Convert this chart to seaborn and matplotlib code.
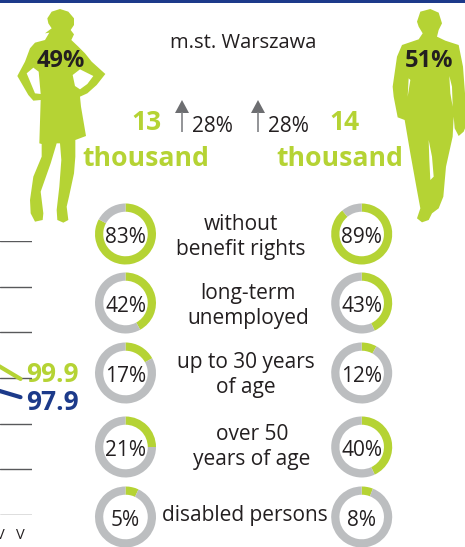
import numpy as np
import pandas as pd
import matplotlib.pyplot as plt
from matplotlib.patches import Polygon, Rectangle
import seaborn as sns

W, H = 465, 547
GREEN = '#b5d334'
BLUE = '#1c3a8a'
GREY = '#bcbec0'
DARK = '#231f20'

# line chart (only the right end of it is visible)
months = ['IV', 'V']
green_line = [101.3, 99.9]
blue_line = [98.6, 97.9]
grid_values = [85, 90, 95, 100, 105, 110, 115]

# donuts
row_labels = ['without\nbenefit rights', 'long-term\nunemployed', 'up to 30 years\nof age',
              'over 50\nyears of age', 'disabled persons']
women_labels = ['83%', '42%', '17%', '21%', '5%']
men_labels = ['89%', '43%', '12%', '40%', '8%']
# arc sizes as drawn, they do not always agree with the printed number
women_arcs = [83, 42, 17, 25, 7]
men_arcs = [89, 43, 8, 43, 6]

# silhouettes
woman = [(180,27),(205,35),(222,55),(222,75),(212,90),(222,103),(214,120),(235,140),(255,160),(275,185),
         (316,222),(290,255),(262,280),(240,290),(243,320),(258,408),(226,420),(226,470),(222,520),(207,590),
         (200,620),(205,660),(190,668),(172,660),(170,630),(178,560),(184,480),(180,430),(170,430),(152,490),
         (122,575),(130,640),(128,660),(105,665),(92,640),(90,600),(100,530),(125,470),(125,432),(118,430),
         (122,300),(100,302),(85,285),(52,228),(75,185),(90,145),(105,128),(135,120),(148,98),(135,100),(155,85),
         (145,70),(142,55),(155,35)]
woman_holes = [[(80,220),(100,203),(116,215),(122,282),(105,280)],
               [(218,225),(240,208),(280,228),(262,252),(240,268),(225,258)]]
man = [(595,27),(620,38),(630,70),(620,90),(615,110),(640,122),(680,135),(693,200),(699,280),(699,385),
       (695,395),(680,408),(668,385),(665,350),(662,410),(642,500),(634,590),(620,625),(600,640),(590,660),
       (570,667),(555,655),(565,625),(553,560),(535,460),(518,360),(497,352),(485,290),(482,260),(495,170),
       (510,135),(560,118),(572,100),(560,80),(555,65),(565,35)]
man_holes = [[(530,235),(535,240),(527,290)],
             [(652,228),(660,260),(662,320),(655,280)],
             [(590,420),(600,470),(605,530),(595,540),(592,480)]]

sns.set_theme(style='white')
plt.rcParams['font.family'] = ['Open Sans', 'DejaVu Sans']

fig = plt.figure(figsize=(W / 100, H / 100), dpi=100, facecolor='white')
bg = fig.add_axes([0, 0, 1, 1])
bg.set_xlim(0, W)
bg.set_ylim(H, 0)
bg.axis('off')

bg.add_patch(Rectangle((0, 0), W, 3, color=BLUE, lw=0))

# silhouettes
bg.add_patch(Polygon([(x / 3, y / 3) for x, y in woman], color=GREEN, lw=0))
for hole in woman_holes:
    bg.add_patch(Polygon([(x / 3, y / 3) for x, y in hole], color='white', lw=0))
bg.add_patch(Polygon([(232 + x / 3, y / 3) for x, y in man], color=GREEN, lw=0))
for hole in man_holes:
    bg.add_patch(Polygon([(232 + x / 3, y / 3) for x, y in hole], color='white', lw=0))

bg.text(61, 61, '49%', ha='center', va='center', fontsize=17, fontweight='bold', color=DARK)
bg.text(429, 61, '51%', ha='center', va='center', fontsize=17, fontweight='bold', color=DARK)
bg.text(243, 43, 'm.st. Warszawa', ha='center', va='center', fontsize=14.5, color=DARK)

for x, num, x_word in [(146, '13', 146), (344, '14', 340)]:
    bg.text(x, 123, num, ha='center', va='center', fontsize=19, fontweight='bold', color=GREEN)
    bg.text(x_word, 159, 'thousand', ha='center', va='center', fontsize=19.2, fontweight='bold', color=GREEN)

for x_arrow, x_text in [(182, 212), (258, 288)]:
    bg.plot([x_arrow, x_arrow], [112, 132], color='#808285', lw=1.2, solid_capstyle='butt')
    bg.add_patch(Polygon([(x_arrow - 7, 113), (x_arrow + 7, 113), (x_arrow, 100)], color='#6d6e71', lw=0))
    bg.text(x_text, 126, '28%', ha='center', va='center', fontsize=15, color=DARK)

# row labels
label_x = [241, 248, 246, 252, 245]
label_y = [237, 306, 375, 447, 516]
for lab, x, y in zip(row_labels, label_x, label_y):
    bg.text(x, y, lab, ha='center', va='center', fontsize=15, color=DARK, linespacing=1.2)

# donuts
donut_y = [234, 303, 373, 447, 517]
R = 30.5


def donut(cx, cy, arc, text):
    ax = fig.add_axes([(cx - R) / W, 1 - (cy + R) / H, 2 * R / W, 2 * R / H])
    ax.pie([arc, 100 - arc], colors=[GREEN, GREY], startangle=90, counterclock=False, radius=1,
           wedgeprops={'width': 0.27, 'linewidth': 0})
    ax.set_xlim(-1, 1)
    ax.set_ylim(-1, 1)
    ax.patch.set_alpha(0)
    ax.text(0, -0.115, text, ha='center', va='center', fontsize=15, color=DARK)


for cy, a, t in zip(donut_y, women_arcs, women_labels):
    donut(125.5, cy, a, t)
for cy, a, t in zip(donut_y, men_arcs, men_labels):
    donut(361.7, cy, a, t)

# line chart stub at left edge
ax = fig.add_axes([0, 1 - 515 / H, 32 / W, (515 - 241) / H])
ax.patch.set_alpha(0)
df = pd.DataFrame({'x': [0, 1, 0, 1], 'value': green_line + blue_line,
                   'series': ['green', 'green', 'blue', 'blue']})
ax.set_yticks(grid_values)
ax.grid(True, axis='y', color='#58595b', lw=1)
ax.set_axisbelow(True)
sns.lineplot(data=df, x='x', y='value', hue='series', palette={'green': GREEN, 'blue': BLUE},
             lw=3, legend=False, ax=ax, solid_capstyle='round', clip_on=False)
ax.set_xlim(1 / 21.5, 1 + 11.5 / 21.5)
ax.set_ylim(85, 115)
ax.set_xticks([])
ax.tick_params(left=False, labelleft=False)
ax.set_xlabel('')
ax.set_ylabel('')
sns.despine(ax=ax, left=True, bottom=True)

for i, m in enumerate(months):
    ax.annotate(m, (i, 85), xytext=(0, -20 * 0.72), textcoords='offset points', ha='center', va='center',
                fontsize=10.5, color=DARK, annotation_clip=False)

bg.text(26, 375, '99.9', ha='left', va='center', fontsize=19, fontweight='bold', color=GREEN, zorder=5)
bg.text(26, 402, '97.9', ha='left', va='center', fontsize=19, fontweight='bold', color=BLUE, zorder=5)

fig.savefig('out.png', dpi=100, facecolor='white')
